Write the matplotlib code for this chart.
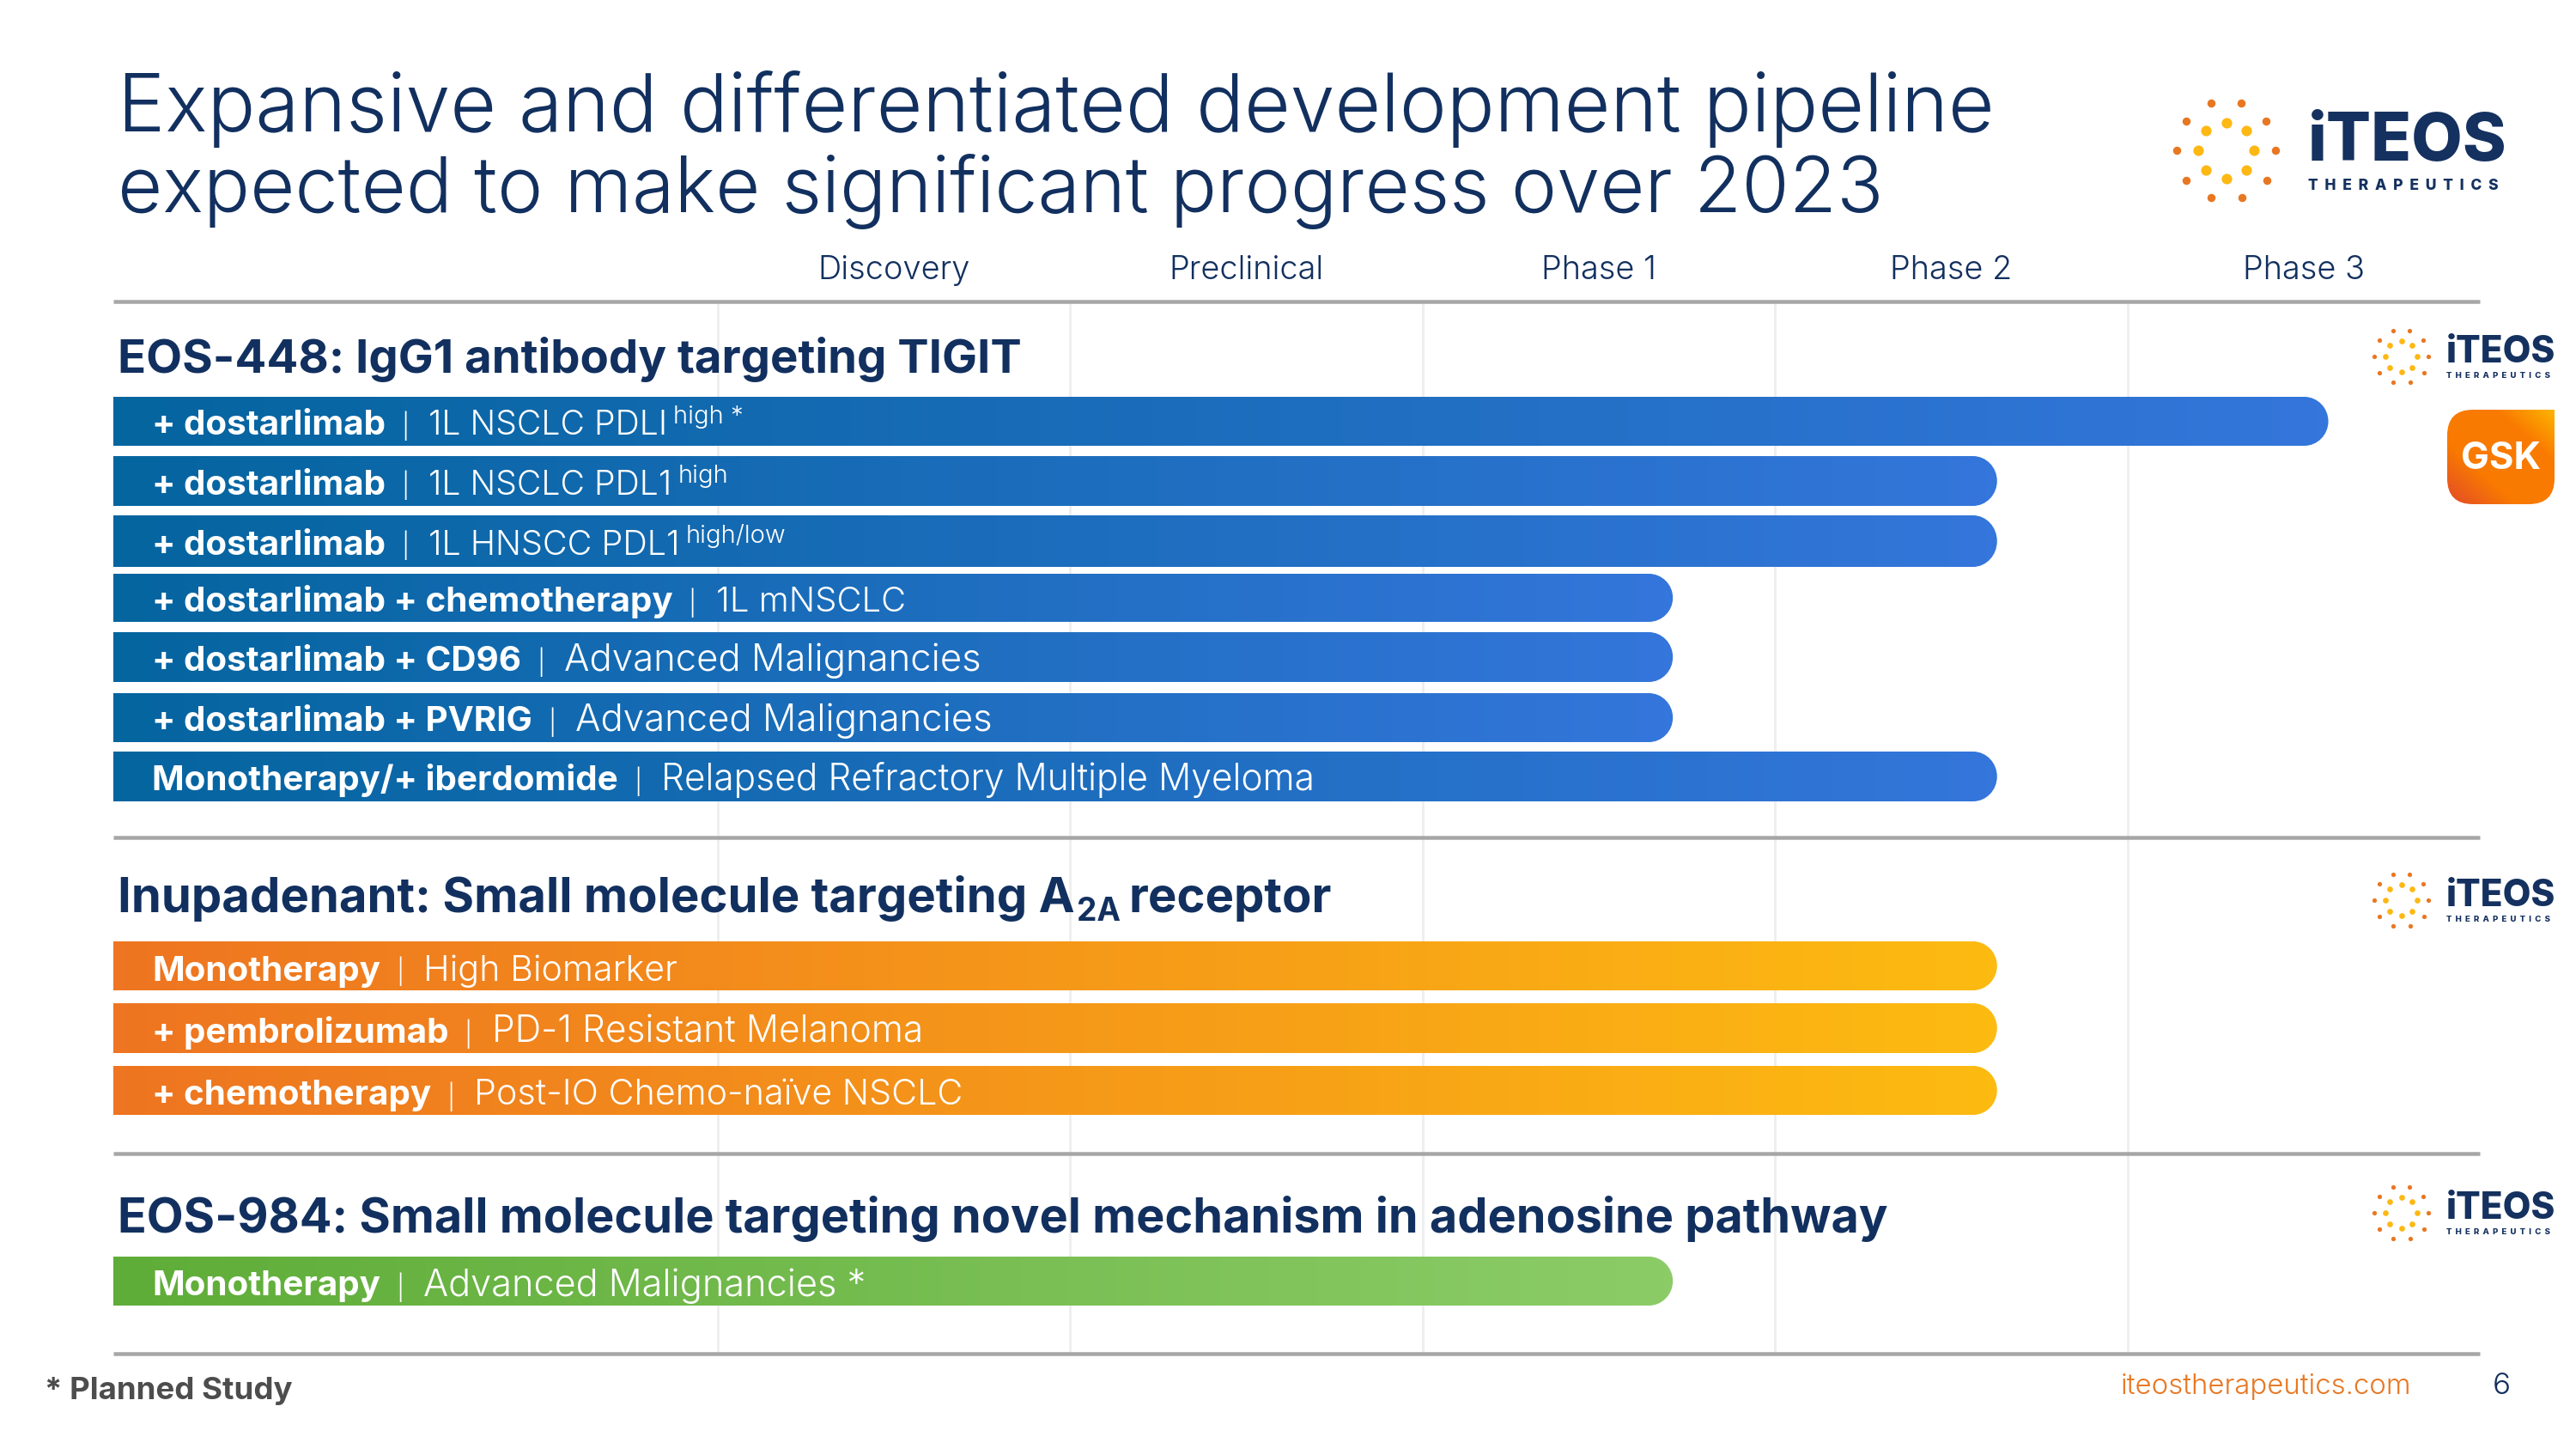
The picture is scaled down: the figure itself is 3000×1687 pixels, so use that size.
#!/usr/bin/env python3
import numpy as np
import matplotlib
matplotlib.use("Agg")
import matplotlib.pyplot as plt
from matplotlib.colors import LinearSegmentedColormap
from matplotlib.patches import PathPatch
from matplotlib.path import Path

plt.rcParams["font.family"] = ["Inter", "DejaVu Sans"]

# ── data ──────────────────────────────────────────────────────────────────────
phases = ["Discovery", "Preclinical", "Phase 1", "Phase 2", "Phase 3"]

# how far each programme reaches, in phase columns from the start of Discovery
eos448_reach = [4.57, 3.63, 3.63, 2.71, 2.71, 2.71, 3.63]
inupadenant_reach = [3.63, 3.63, 3.63]
eos984_reach = [2.71]

eos448_combo = ["+ dostarlimab", "+ dostarlimab", "+ dostarlimab",
                "+ dostarlimab + chemotherapy", "+ dostarlimab + CD96",
                "+ dostarlimab + PVRIG", "Monotherapy/+ iberdomide"]
eos448_indication = ["1L NSCLC PDLI", "1L NSCLC PDL1", "1L HNSCC PDL1", "1L mNSCLC",
                     "Advanced Malignancies", "Advanced Malignancies",
                     "Relapsed Refractory Multiple Myeloma"]
eos448_sup = ["high *", "high", "high/low", "", "", "", ""]

inupadenant_combo = ["Monotherapy", "+ pembrolizumab", "+ chemotherapy"]
inupadenant_indication = ["High Biomarker", "PD-1 Resistant Melanoma", "Post-IO Chemo-naïve NSCLC"]

eos984_combo = ["Monotherapy"]
eos984_indication = ["Advanced Malignancies *"]

# ── layout (reference pixels) ─────────────────────────────────────────────────
W, H = 3000, 1687
COL0, COL_END = 836, 2888
LEFT = 132
col_w = (COL_END - COL0) / 5
bar_start = (LEFT - COL0) / col_w
eos448_rows = [(462, 519), (531, 589), (600, 660), (668, 724), (736, 794), (807, 864), (875, 933)]
inupadenant_rows = [(1096, 1153), (1168, 1226), (1241, 1298)]
eos984_rows = [(1463, 1520)]
rule_y = [351, 975, 1343, 1576]

# light text sizes per row, fitted to the widths in the reference
eos448_light = [9.4, 9.4, 9.5, 9.6, 10.5, 10.5, 10.2]
inupadenant_light = [9.9, 10.2, 9.9]
eos984_light = [10.4]

NAVY = "#12305f"
ORANGE = "#e87722"
YELLOW = "#fdb813"
GREY = "#a6a6a6"
blues = LinearSegmentedColormap.from_list("b", ["#05659f", "#3476db"])
oranges = LinearSegmentedColormap.from_list("o", ["#ee7521", "#fdbb11"])
greens = LinearSegmentedColormap.from_list("g", ["#5fad39", "#8ccc67"])

fig = plt.figure(figsize=(W / 300, H / 300), dpi=300)
renderer = fig.canvas.get_renderer()

# phase axes: x in phase columns, y in page pixels. page axes: everything else
ax = fig.add_axes([LEFT / W, 0, (COL_END - LEFT) / W, 1])
page = fig.add_axes([0, 0, 1, 1], zorder=2)
page.patch.set_visible(False)
ax.set_axis_off()
page.set_axis_off()


def rounded_bar(x0, x1, top, bot, rx):
    k = 0.5523
    ry = (bot - top) / 2
    verts = [(x0, top), (x1 - rx, top),
             (x1 - rx + k * rx, top), (x1, top + ry - k * ry), (x1, top + ry),
             (x1, top + ry + k * ry), (x1 - rx + k * rx, bot), (x1 - rx, bot),
             (x0, bot), (x0, top)]
    codes = [Path.MOVETO, Path.LINETO, Path.CURVE4, Path.CURVE4, Path.CURVE4,
             Path.CURVE4, Path.CURVE4, Path.CURVE4, Path.LINETO, Path.CLOSEPOLY]
    return Path(verts, codes)


def draw_bars(reach, rows, cmap):
    grad = np.linspace(0, 1, 256).reshape(1, -1)
    for end, (top, bot) in zip(reach, rows):
        im = ax.imshow(grad, cmap=cmap, aspect="auto", extent=[bar_start, end, bot, top],
                       interpolation="bilinear", zorder=2)
        clip = PathPatch(rounded_bar(bar_start, end, top, bot, 28 / col_w),
                         transform=ax.transData, fc="none", ec="none")
        ax.add_patch(clip)
        im.set_clip_path(clip)


draw_bars(eos448_reach, eos448_rows, blues)
draw_bars(inupadenant_reach, inupadenant_rows, oranges)
draw_bars(eos984_reach, eos984_rows, greens)

ax.vlines(range(0, 5), rule_y[0], rule_y[-1], color="#efefef", lw=0.72, zorder=1)
for i, name in enumerate(phases):
    ax.text(i + 0.5, 325, name, ha="center", va="baseline", color=NAVY, fontsize=9.1, weight=300)
ax.set_xlim(bar_start, 5)
ax.set_ylim(H, 0)

page.set_xlim(0, W)
page.set_ylim(H, 0)
page.hlines(rule_y, LEFT, COL_END, color=GREY, lw=1.08)


def put(x, y, s, size, weight, color="white", **kw):
    """Draw a run of text at a baseline and return where it ends."""
    t = page.text(x, y, s, fontsize=size, weight=weight, color=color, va="baseline", **kw)
    return t.get_window_extent(renderer).x1


BAR_BOLD = 9.7


def bar_labels(combos, indications, rows, light, drop, sups=None):
    sups = sups or [""] * len(rows)
    for combo, ind, size, sup, (top, bot) in zip(combos, indications, light, sups, rows):
        y = (top + bot) / 2 + drop
        x = put(177, y, combo, BAR_BOLD, 700)
        x = put(x + 18, y, "|", 7, 300)
        x = put(x + 23, y, ind, size, 300)
        if sup:
            put(x + 7, y - 13, sup, 7, 300)


bar_labels(eos448_combo, eos448_indication, eos448_rows, eos448_light, 15.5, eos448_sup)
bar_labels(inupadenant_combo, inupadenant_indication, inupadenant_rows, inupadenant_light, 17)
bar_labels(eos984_combo, eos984_indication, eos984_rows, eos984_light, 17)

# titles
put(137, 153, "Expansive and differentiated development pipeline", 22.3, 300, NAVY)
put(137, 247, "expected to make significant progress over 2023", 21.6, 300, NAVY)

put(137, 434, "EOS-448: IgG1 antibody targeting TIGIT", 13.1, 700, NAVY)
x = put(137, 1062, "Inupadenant: Small molecule targeting A", 13.5, 700, NAVY)
x = put(x + 2, 1072, "2A", 8.9, 700, NAVY)
put(x + 10, 1062, "receptor", 13.5, 700, NAVY)
put(137, 1435, "EOS-984: Small molecule targeting novel mechanism in adenosine pathway", 13.4, 700, NAVY)

# footer
put(52, 1629, "* Planned Study", 8.8, 700, "#4d4d4d")
put(2470, 1623, "iteostherapeutics.com", 7.9, 300, ORANGE)
put(2903, 1623, "6", 8.4, 300, NAVY)

# logos
outer_dots = np.array([(-17.6, -54.6), (17.6, -54.6), (-46.3, -33.9), (46.7, -33.9), (-57.8, 0),
                       (57.8, 0), (-46.3, 34.6), (47.5, 34.6), (-17.6, 55.4), (18.4, 55.4)])
inner_dots = np.array([(0, -32.5), (-23.7, -22.9), (23, -22.9), (-32.9, 0), (32.9, 0),
                       (-23.7, 23.2), (23, 23.2), (0, 32.9)])


def logo(cx, cy, s):
    pt = 72 / 300
    page.scatter(cx + outer_dots[:, 0] * s, cy + outer_dots[:, 1] * s, s=(9.5 * s * pt) ** 2,
                 color=ORANGE, linewidths=0)
    page.scatter(cx + inner_dots[:, 0] * s, cy + inner_dots[:, 1] * s, s=(12.2 * s * pt) ** 2,
                 color=YELLOW, linewidths=0)
    put(cx + 95.5 * s, cy + 12 * s, "iTEOS", 18.5 * s, 800, "#14315f")
    put(cx + 95.5 * s, cy + 46 * s, "T  H  E  R  A  P  E  U  T  I  C  S", 4.2 * s, 800, "#14315f")


logo(2592.5, 175, 1)
logo(2796.5, 415, 0.55)
logo(2796.5, 1048, 0.55)
logo(2796.5, 1412, 0.55)

# GSK badge
yy, xx = np.mgrid[0:1:120j, 0:1:120j]
base = np.array([0xf9, 0x7a, 0x00]) / 255
hot = np.array([0xfd, 0xb4, 0x00]) / 255
red = np.array([0xe2, 0x4a, 0x2a]) / 255
t_hot = np.clip((xx - yy - 0.45) / 0.55, 0, 1)[..., None]
t_red = np.clip((yy - xx - 0.35) / 0.65, 0, 1)[..., None]
badge = base * (1 - t_hot) * (1 - t_red) + hot * t_hot + red * t_red
gx0, gx1, gy0, gy1 = 2850, 2975, 477, 587
r = 30
badge_path = Path(
    [(gx0 + r, gy0), (gx1, gy0), (gx1, gy1 - r), (gx1, gy1), (gx1 - r, gy1), (gx0 + r, gy1),
     (gx0, gy1), (gx0, gy1 - r), (gx0, gy0 + r), (gx0, gy0), (gx0 + r, gy0), (gx0 + r, gy0)],
    [Path.MOVETO, Path.LINETO, Path.LINETO, Path.CURVE3, Path.CURVE3, Path.LINETO,
     Path.CURVE3, Path.CURVE3, Path.LINETO, Path.CURVE3, Path.CURVE3, Path.CLOSEPOLY])
im = page.imshow(badge, extent=[gx0, gx1, gy1, gy0], aspect="auto", interpolation="bilinear")
clip = PathPatch(badge_path, transform=page.transData, fc="none", ec="none")
page.add_patch(clip)
im.set_clip_path(clip)
page.set_xlim(0, W)
page.set_ylim(H, 0)
page.text((gx0 + gx1) / 2, 546, "GSK", color="white", fontsize=10.5, weight=700, ha="center", va="baseline")

fig.savefig("out.png", dpi=300)
